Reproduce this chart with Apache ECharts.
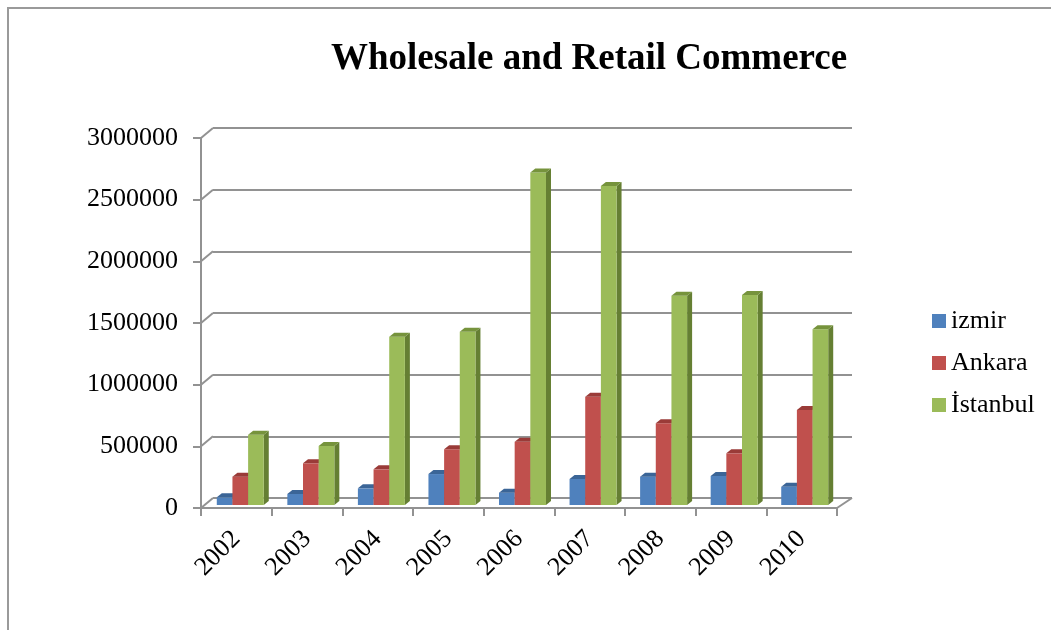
<!DOCTYPE html>
<html>
<head>
<meta charset="utf-8">
<title>Wholesale and Retail Commerce</title>
<script src="https://cdn.jsdelivr.net/npm/echarts@6/dist/echarts.min.js"></script>
<style>
  html, body { margin: 0; padding: 0; background: #ffffff; }
  #chart { width: 1051px; height: 630px; }
</style>
</head>
<body>
<div id="chart"></div>
<script>
// Yearly values per city
const years = ['2002', '2003', '2004', '2005', '2006', '2007', '2008', '2009', '2010'];
const izmir = [62000, 89000, 135000, 251000, 100000, 211000, 230000, 235000, 148000];
const ankara = [230000, 338000, 289000, 452000, 513000, 878000, 662000, 419000, 770000];
const istanbul = [570000, 478000, 1365000, 1405000, 2695000, 2587000, 1697000, 1703000, 1425000];
const yTicks = [0, 500000, 1000000, 1500000, 2000000, 2500000, 3000000];

const FONT = '"Liberation Serif", "Times New Roman", serif';
const GRID_GRAY = '#929292';

// face colours: front, top, side
const palettes = [
  { front: '#4f81bd', top: '#3b6597', side: '#375c8a' },
  { front: '#c0504d', top: '#9a3b38', side: '#8b3734' },
  { front: '#9bbb59', top: '#76933c', side: '#657f33' }
];
const cities = [
  { name: 'izmir', data: izmir },
  { name: 'Ankara', data: ankara },
  { name: 'İstanbul', data: istanbul }
];

const chart = echarts.init(document.getElementById('chart'), null, { renderer: 'canvas' });

// Bars rendered as boxes: front face, top face and right side face
function barRenderer(seriesPos, pal) {
  return function (params, api) {
    const idx = api.value(0);
    const v = api.value(1);
    const base = api.coord([idx, 0]);
    const top = api.coord([idx, v]);
    const band = api.size([1, 0])[0];
    const w = band * 0.222;
    const x0 = base[0] - 1.5 * w + seriesPos * w;
    const x1 = x0 + w;
    const yt = top[1];
    const yb = base[1];
    const dx = 5, dy = -4;
    return {
      type: 'group',
      children: [
        {
          type: 'polygon',
          shape: { points: [[x1, yt], [x1 + dx, yt + dy], [x1 + dx, yb + dy], [x1, yb]] },
          style: { fill: pal.side }
        },
        {
          type: 'rect',
          shape: { x: x0, y: yt, width: w, height: yb - yt },
          style: { fill: pal.front }
        },
        {
          type: 'polygon',
          shape: { points: [[x0, yt], [x1, yt], [x1 + dx, yt + dy], [x0 + dx, yt + dy]] },
          style: { fill: pal.top }
        }
      ]
    };
  };
}

// Wall/floor edges linking the front axis to the back wall
function edgeRenderer(params, api) {
  const v = api.value(0);
  const cs = params.coordSys;
  const y = api.coord([0, v])[1];
  const children = [{
    type: 'line',
    shape: { x1: cs.x, y1: y, x2: cs.x - 12, y2: y + 10 },
    style: { stroke: GRID_GRAY, lineWidth: 2 }
  }];
  if (v === 0) {
    children.push({
      type: 'line',
      shape: { x1: cs.x + cs.width, y1: y, x2: cs.x + cs.width - 15, y2: y + 10 },
      style: { stroke: GRID_GRAY, lineWidth: 2 }
    });
  }
  return { type: 'group', children: children };
}

const barSeries = cities.map(function (c, s) {
  return {
    name: c.name,
    type: 'custom',
    xAxisIndex: 2,
    yAxisIndex: 2,
    itemStyle: { color: palettes[s].front },
    renderItem: barRenderer(s, palettes[s]),
    encode: { x: 0, y: 1 },
    data: c.data.map(function (v, i) { return [i, v]; }),
    z: 5
  };
});

const option = {
  animation: false,
  backgroundColor: '#ffffff',
  textStyle: { fontFamily: FONT },
  title: {
    text: 'Wholesale and Retail Commerce',
    left: 331,
    top: 41,
    padding: 0,
    textStyle: { fontFamily: FONT, fontSize: 37, fontWeight: 'bold', color: '#000000' }
  },
  legend: {
    orient: 'vertical',
    left: 932,
    top: 307,
    padding: 0,
    itemWidth: 14,
    itemHeight: 14,
    itemGap: 14,
    icon: 'rect',
    textStyle: { fontFamily: FONT, fontSize: 26, color: '#000000', lineHeight: 28 },
    data: cities.map(function (c) { return c.name; })
  },
  grid: [
    // front axis plane
    { left: 201, right: 214, top: 138, bottom: 122, containLabel: false },
    // back wall
    { left: 213, right: 199, top: 128, bottom: 132, containLabel: false },
    // bar plane
    { left: 205, right: 211, top: 135, bottom: 125, containLabel: false }
  ],
  xAxis: [
    {
      gridIndex: 0,
      type: 'category',
      data: years,
      boundaryGap: true,
      axisLine: { show: true, lineStyle: { color: GRID_GRAY, width: 2 } },
      axisTick: { show: true, interval: 0, length: 8, lineStyle: { color: GRID_GRAY, width: 2 } },
      axisLabel: { interval: 0, rotate: 45, margin: 27, fontFamily: FONT, fontSize: 26, color: '#000000' },
      splitLine: { show: false }
    },
    { gridIndex: 1, type: 'category', data: years, show: false },
    { gridIndex: 2, type: 'category', data: years, show: false }
  ],
  yAxis: [
    {
      gridIndex: 0,
      type: 'value',
      min: 0,
      max: 3000000,
      interval: 500000,
      axisLine: { show: true, lineStyle: { color: GRID_GRAY, width: 2 } },
      axisTick: { show: true, length: 8, lineStyle: { color: GRID_GRAY, width: 2 } },
      axisLabel: {
        margin: 23,
        fontFamily: FONT,
        fontSize: 26,
        color: '#000000',
        formatter: function (v) { return String(v); }
      },
      splitLine: { show: false }
    },
    {
      gridIndex: 1,
      type: 'value',
      min: 0,
      max: 3000000,
      interval: 500000,
      axisLine: { show: false },
      axisTick: { show: false },
      axisLabel: { show: false },
      splitLine: { show: true, lineStyle: { color: GRID_GRAY, width: 2 } }
    },
    { gridIndex: 2, type: 'value', min: 0, max: 3000000, interval: 500000, show: false, splitLine: { show: false } }
  ],
  series: [
    {
      name: 'edges',
      type: 'custom',
      xAxisIndex: 1,
      yAxisIndex: 1,
      renderItem: edgeRenderer,
      encode: { y: 0 },
      data: yTicks.map(function (v) { return [v]; }),
      silent: true,
      z: 1
    }
  ].concat(barSeries),
  graphic: [
    {
      type: 'rect',
      shape: { x: 8, y: 8, width: 1200, height: 800 },
      style: { fill: 'none', stroke: '#9a9a9a', lineWidth: 2 },
      silent: true,
      z: 0
    }
  ]
};

chart.setOption(option);
</script>
</body>
</html>
